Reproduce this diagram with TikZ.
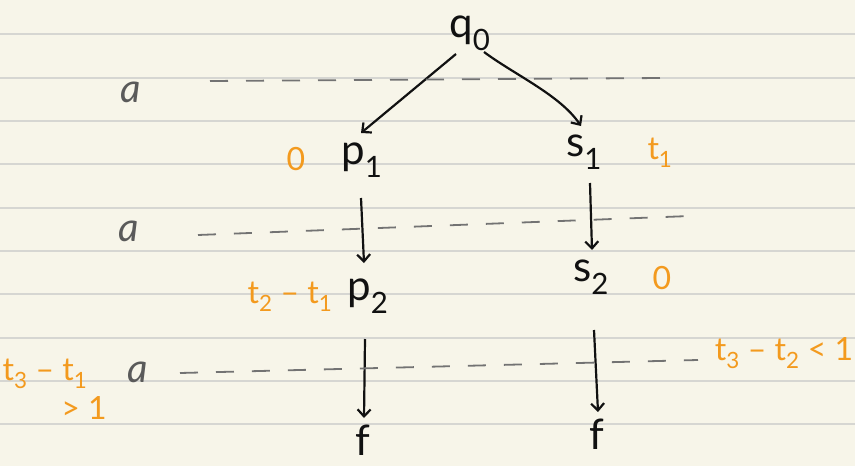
\documentclass[tikz,border=0pt]{standalone}
\usepackage{fontspec}
\setmainfont{Lato}
\usetikzlibrary{arrows.meta}
\definecolor{paper}{HTML}{F7F5E9}
\definecolor{rule}{HTML}{D6D6D2}
\definecolor{ink}{HTML}{111111}
\definecolor{pencil}{HTML}{5A5A5A}
\definecolor{hl}{HTML}{F39A1E}
\tikzset{
  state/.style={text=ink, font=\fontsize{42}{46}\selectfont, inner sep=0pt},
  lab/.style={text=hl, font=\fontsize{32}{36}\selectfont, inner sep=0pt},
  sym/.style={text=pencil, font=\fontsize{40}{44}\selectfont\itshape, inner sep=0pt},
  edge/.style={draw=ink, line width=2.2pt, -{Straight Barb[length=7pt,width=13pt,line width=2.2pt]}},
  ruled/.style={draw=rule, line width=1.6pt},
  gap/.style={draw=pencil!85, line width=1.8pt, dash pattern=on 18pt off 18pt}
}
\begin{document}
\begin{tikzpicture}[x=1pt,y=-1pt]
\fill[paper] (0,0) rectangle (855,466);
\useasboundingbox (0,0) rectangle (855,466);
\foreach \yy in {34,78,121,164,208,251,294,338,381,424}
  \draw[ruled] (0,\yy) -- (855,\yy);
% states
\node[state] (q0) at (470,33) {q\textsubscript{0}};
\node[state] (p1) at (362,160) {p\textsubscript{1}};
\node[state] (s1) at (584,152) {s\textsubscript{1}};
\node[state] (p2) at (368,296) {p\textsubscript{2}};
\node[state] (s2) at (591,277) {s\textsubscript{2}};
\node[state] (f1) at (363,440) {f};
\node[state] (f2) at (597,434) {f};
% connector end points (just outside the state labels)
\coordinate (q0l) at (456,54);  \coordinate (p1t) at (361,133);
\coordinate (q0r) at (484,52);  \coordinate (s1t) at (581,126);
\coordinate (p1b) at (361,198); \coordinate (p2t) at (364,263);
\coordinate (s1b) at (590,183); \coordinate (s2t) at (592,250);
\coordinate (p2b) at (365,339); \coordinate (f1t) at (364,418);
\coordinate (s2b) at (594,330); \coordinate (f2t) at (598,412);
% arrows
\draw[edge] (q0l) -- (p1t);
\draw[edge] (q0r) .. controls (515,75) and (560,95) .. (s1t);
\draw[edge] (p1b) -- (p2t);
\draw[edge] (s1b) -- (s2t);
\draw[edge] (p2b) -- (f1t);
\draw[edge] (s2b) -- (f2t);
% symbol labels and dashed levels
\node[sym] (la1) at (131,92) {a};
\node[sym] (la2) at (129,231) {a};
\node[sym] (la3) at (138,372) {a};
\coordinate (d1s) at (210,81); \coordinate (d1e) at (662,78);
\coordinate (d2s) at (198,235); \coordinate (d2e) at (690,216);
\coordinate (d3s) at (180,373); \coordinate (d3e) at (698,360);
\draw[gap] (d1s) -- (d1e);
\draw[gap] (d2s) -- (d2e);
\draw[gap] (d3s) -- (d3e);
% orange annotations
\node[lab] (o1) at (296,159) {0};
\node[lab] (o2) at (660,153) {t\textsubscript{1}};
\node[lab] (o3) at (290,297) {t\textsubscript{2} -- t\textsubscript{1}};
\node[lab] (o4) at (662,278) {0};
\node[lab] (o5) at (45,374) {t\textsubscript{3} -- t\textsubscript{1}};
\node[lab] (o6) at (84,408) {> 1};
\node[lab] (o7) at (784,353) {t\textsubscript{3} -- t\textsubscript{2} < 1};
\end{tikzpicture}
\end{document}
